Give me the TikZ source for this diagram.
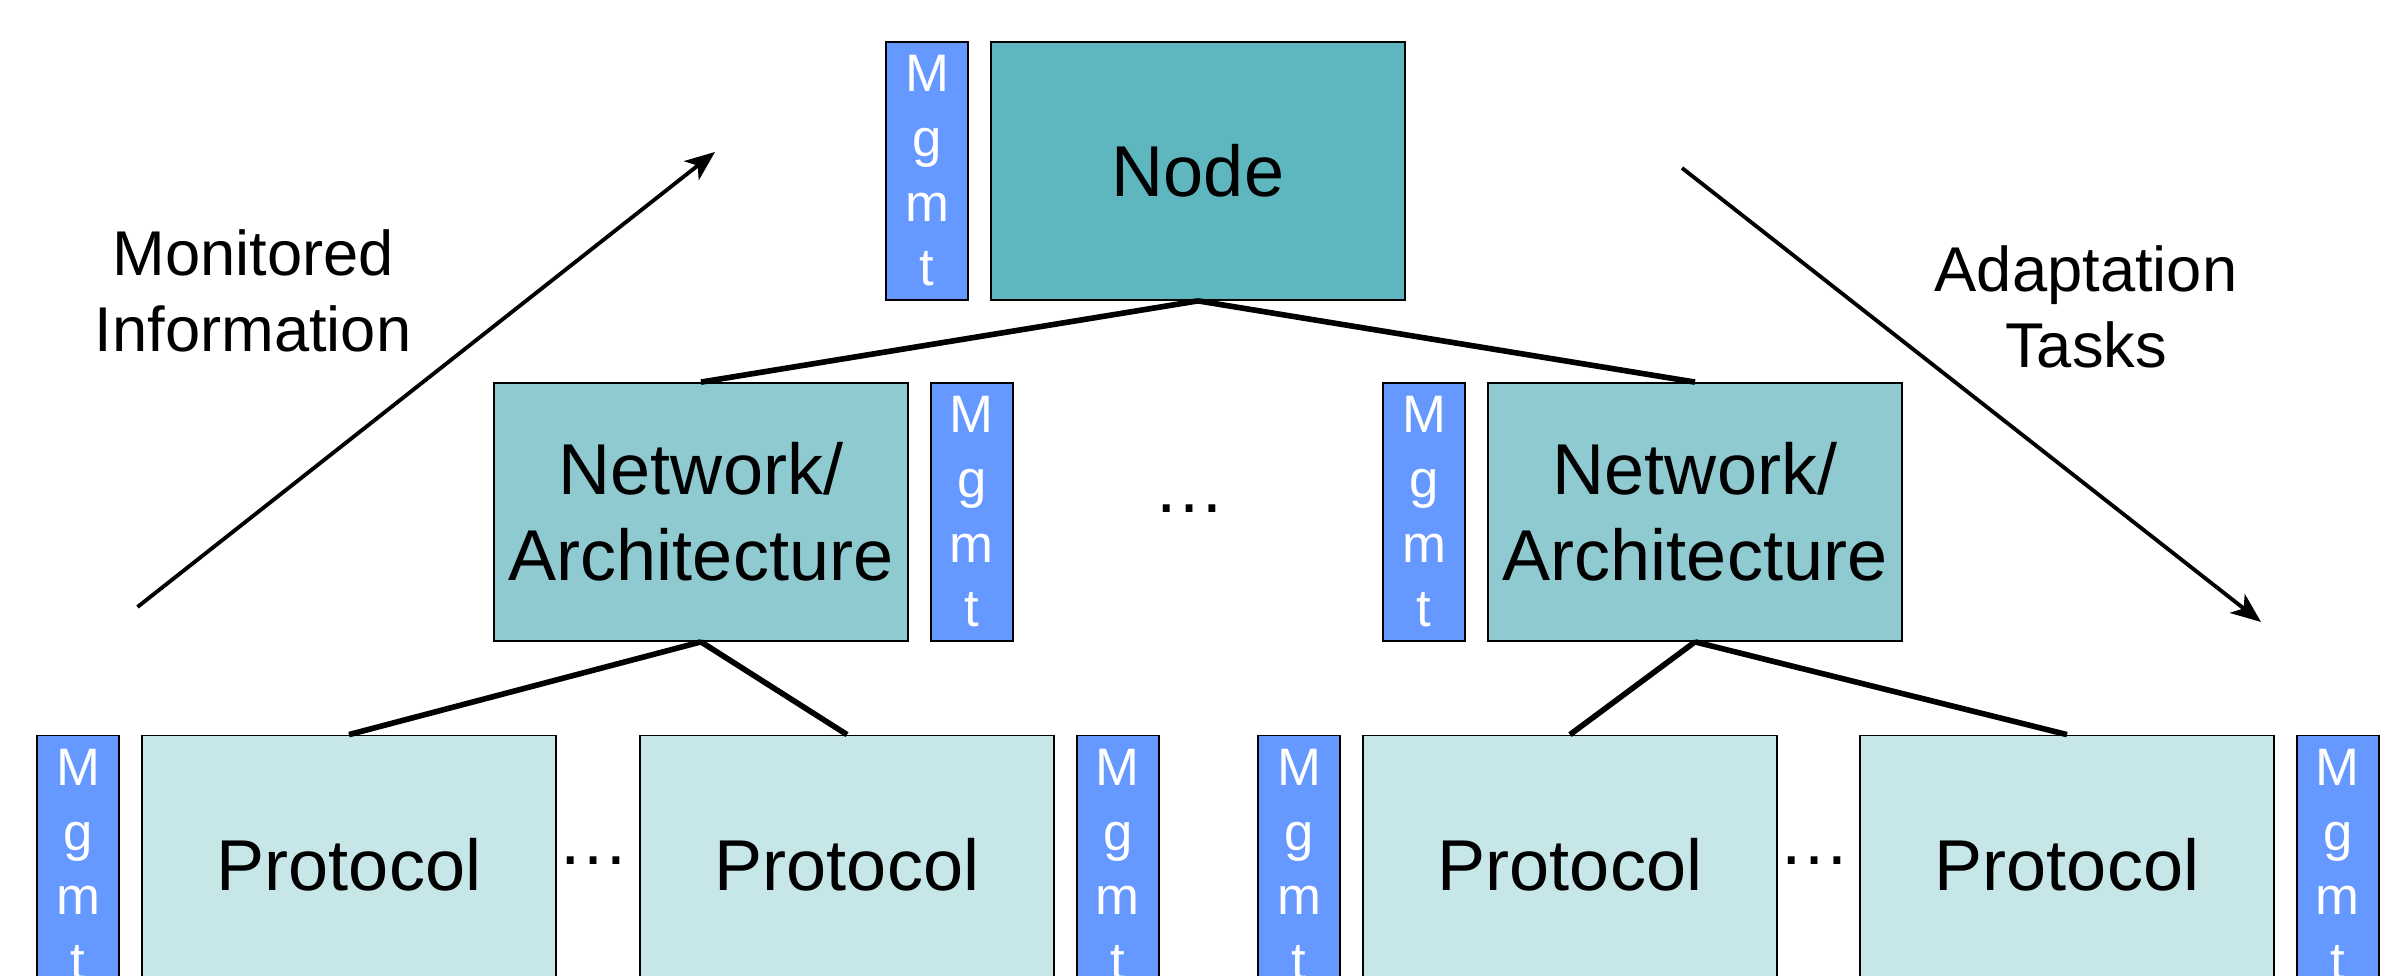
\documentclass[tikz,border=0pt]{standalone}
\usepackage{fontspec}
\setmainfont{Liberation Sans}
\usetikzlibrary{positioning,arrows.meta}
\definecolor{nodefill}{HTML}{5EB7BE}
\definecolor{netfill}{HTML}{8ECAD0}
\definecolor{protfill}{HTML}{C6E6E8}
\definecolor{mgmtfill}{HTML}{6699FF}
\begin{document}
\begin{tikzpicture}[
    box/.style={draw, line width=0.5pt, minimum width=4.14cm, minimum height=2.58cm,
        inner sep=0pt, align=center, font=\fontsize{20.5}{24.6}\selectfont},
    mgmt/.style={draw, line width=0.5pt, fill=mgmtfill, text=white, minimum width=0.82cm,
        minimum height=2.58cm, inner sep=0pt, align=center, font=\fontsize{15}{18.4}\selectfont},
    link/.style={line width=1.6pt},
    flow/.style={-{Stealth[length=3mm, width=2.4mm, inset=0.8mm]}, line width=1.1pt},
    lbl/.style={align=center, font=\fontsize{18}{21.6}\selectfont},
    dots/.style={inner sep=0pt, font=\fontsize{20.5}{24.6}\selectfont}
]
    \clip (0,0) rectangle (24.03,9.76);

    % top level
    \node[box, fill=nodefill] (node) at (11.98,8.05) {Node};
    \node[mgmt, left=0.21cm of node] (mgmt0) {M\\g\\m\\t};

    % network level
    \node[box, fill=netfill] (netl) at (7.01,4.64) {Network/\\Architecture};
    \node[mgmt, right=0.21cm of netl] (mgmtl) {M\\g\\m\\t};
    \node[box, fill=netfill] (netr) at (16.95,4.64) {Network/\\Architecture};
    \node[mgmt, left=0.21cm of netr] (mgmtr) {M\\g\\m\\t};
    \node[dots, anchor=base] (dotsm) at (11.90,4.63) {…};

    % protocol level
    \node[box, fill=protfill] (prot1) at (3.49,1.115) {Protocol};
    \node[box, fill=protfill] (prot2) at (8.47,1.115) {Protocol};
    \node[box, fill=protfill] (prot3) at (15.70,1.115) {Protocol};
    \node[box, fill=protfill] (prot4) at (20.67,1.115) {Protocol};
    \node[mgmt, left=0.21cm of prot1] (mgmt1) {M\\g\\m\\t};
    \node[mgmt, right=0.21cm of prot2] (mgmt2) {M\\g\\m\\t};
    \node[mgmt, left=0.21cm of prot3] (mgmt3) {M\\g\\m\\t};
    \node[mgmt, right=0.21cm of prot4] (mgmt4) {M\\g\\m\\t};
    \node[dots, anchor=base west] (dotsl) at (prot1.east) {…};
    \node[dots, anchor=base west] (dotsr) at (prot3.east) {…};

    % tree
    \draw[link] (node.south) -- (netl.north);
    \draw[link] (node.south) -- (netr.north);
    \draw[link] (netl.south) -- (prot1.north);
    \draw[link] (netl.south) -- (prot2.north);
    \draw[link] (netr.south) -- (prot3.north);
    \draw[link] (netr.south) -- (prot4.north);

    % monitoring and adaptation
    \coordinate (mon0) at (1.375,3.69);
    \coordinate (mon1) at (7.15,8.24);
    \coordinate (ada0) at (16.82,8.08);
    \coordinate (ada1) at (22.61,3.54);
    \draw[flow] (mon0) -- (mon1);
    \draw[flow] (ada0) -- (ada1);
    \node[lbl] (monlbl) at (2.53,6.85) {Monitored\\Information};
    \node[lbl] (adalbl) at (20.86,6.69) {Adaptation\\Tasks};
\end{tikzpicture}
\end{document}
